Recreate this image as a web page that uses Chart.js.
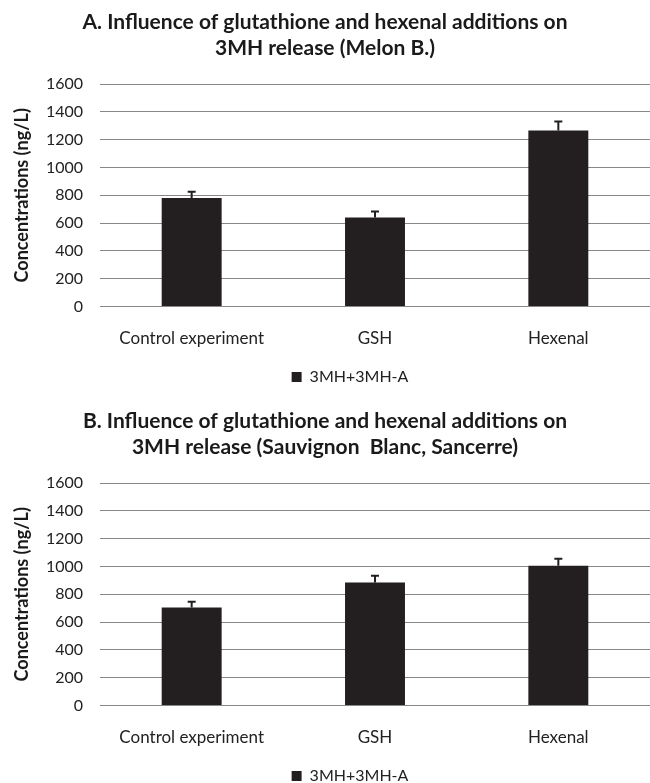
<!DOCTYPE html>
<html>
<head>
<meta charset="utf-8">
<script src="https://cdn.jsdelivr.net/npm/chart.js@4"></script>
<style>
  html, body { margin: 0; background: #fff; overflow: hidden; }
  .box { position: absolute; left: 0; width: 650px; height: 395px; }
</style>
</head>
<body>
<div class="box" style="top:0"><canvas id="chartA"></canvas></div>
<div class="box" style="top:399px"><canvas id="chartB"></canvas></div>
<script>
// data
const categories = ["Control experiment", "GSH", "Hexenal"];
const seriesName = "3MH+3MH-A";
const titleA = ["A. Influence of glutathione and hexenal additions on", "3MH release (Melon B.)"];
const titleB = ["B. Influence of glutathione and hexenal additions on", "3MH release (Sauvignon  Blanc, Sancerre)"];
const melonValues = [780, 640, 1265];
const melonErrors = [45, 43, 65];
const sauvValues = [705, 885, 1005];
const sauvErrors = [42, 48, 50];
const yTicks = [0, 200, 400, 600, 800, 1000, 1200, 1400, 1600];

const FONT = "Lato, 'DejaVu Sans', sans-serif";
const INK = "#231f20";

// draws the upper error bar + cap on each bar
const errorBars = {
    id: 'errorBars',
    afterDatasetsDraw(chart, args, opts) {
        const ctx = chart.ctx;
        const y = chart.scales.y;
        const meta = chart.getDatasetMeta(0);
        const vals = chart.data.datasets[0].data;
        ctx.save();
        ctx.strokeStyle = INK;
        ctx.lineWidth = 2;
        meta.data.forEach((bar, i) => {
            const top = y.getPixelForValue(vals[i] + opts.errors[i]);
            ctx.beginPath();
            ctx.moveTo(bar.x, bar.y);
            ctx.lineTo(bar.x, top);
            ctx.moveTo(bar.x - 4, top);
            ctx.lineTo(bar.x + 4, top);
            ctx.stroke();
        });
        ctx.restore();
    }
};

// legend in the original sits a bit right of the page centre
const legendShift = {
    id: 'legendShift',
    afterLayout(chart) {
        chart.legend.left += 50;
    }
};

function makeChart(id, title, values, errors) {
    new Chart(document.getElementById(id), {
        type: 'bar',
        data: {
            labels: categories,
            datasets: [{
                label: seriesName,
                data: values,
                backgroundColor: INK,
                borderWidth: 0,
                categoryPercentage: 1,
                barPercentage: 0.327
            }]
        },
        plugins: [errorBars, legendShift],
        options: {
            responsive: true,
            maintainAspectRatio: false,
            animation: false,
            layout: { padding: 0 },
            plugins: {
                title: {
                    display: true,
                    text: title,
                    color: "#1a1a1a",
                    font: { family: FONT, size: 21, weight: 'bold', lineHeight: '26px' },
                    padding: { top: 9, bottom: 23 }
                },
                legend: {
                    position: 'bottom',
                    labels: {
                        color: "#222",
                        font: { family: FONT, size: 16 },
                        boxWidth: 10,
                        boxHeight: 10,
                        padding: 6
                    }
                },
                tooltip: { enabled: false },
                errorBars: { errors: errors }
            },
            scales: {
                x: {
                    grid: { display: false },
                    border: { display: false },
                    ticks: { color: "#222", font: { family: FONT, size: 17 }, padding: 14 }
                },
                y: {
                    min: 0,
                    max: 1600,
                    afterBuildTicks(scale) {
                        scale.ticks = yTicks.map(v => ({ value: v }));
                    },
                    afterFit(scale) {
                        scale.width = 100;
                    },
                    grid: { color: "#888", lineWidth: 1, drawTicks: false },
                    border: { display: false },
                    ticks: {
                        color: "#222",
                        font: { family: FONT, size: 16 },
                        padding: 17,
                        callback: v => String(v)
                    },
                    title: {
                        display: true,
                        text: "Concentrations (ng/L)",
                        color: "#1a1a1a",
                        font: { family: FONT, size: 18, weight: 'bold' },
                        padding: { top: 11, bottom: 0 }
                    }
                }
            }
        }
    });
}

makeChart("chartA", titleA, melonValues, melonErrors);
makeChart("chartB", titleB, sauvValues, sauvErrors);
</script>
</body>
</html>
